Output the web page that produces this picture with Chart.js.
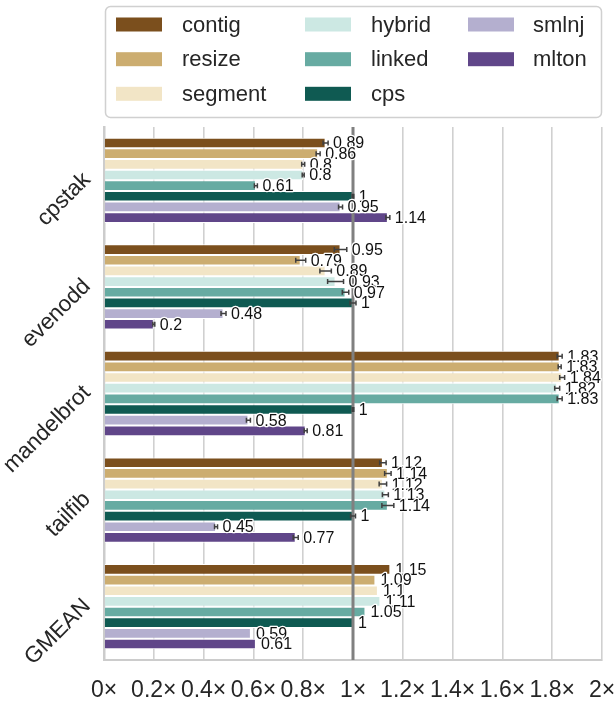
<!DOCTYPE html>
<html>
<head>
<meta charset="utf-8">
<script src="https://cdn.jsdelivr.net/npm/chart.js@4.4.1/dist/chart.umd.min.js"></script>
<style>
  html, body { margin: 0; padding: 0; background: #ffffff; }
  canvas { display: block; }
</style>
</head>
<body>
<canvas id="chart" width="614" height="702"></canvas>
<script>
// Benchmarks (y categories) and speedup relative to cps
const categories = ['cpstak', 'evenodd', 'mandelbrot', 'tailfib', 'GMEAN'];
const seriesNames = ['contig', 'resize', 'segment', 'hybrid', 'linked', 'cps', 'smlnj', 'mlton'];

const contig  = [0.89, 0.95, 1.83, 1.12, 1.15];
const resize  = [0.86, 0.79, 1.83, 1.14, 1.09];
const segment = [0.80, 0.89, 1.84, 1.12, 1.10];
const hybrid  = [0.80, 0.93, 1.82, 1.13, 1.11];
const linked  = [0.61, 0.97, 1.83, 1.14, 1.05];
const cps     = [1.00, 1.00, 1.00, 1.00, 1.00];
const smlnj   = [0.95, 0.48, 0.58, 0.45, 0.59];
const mlton   = [1.14, 0.20, 0.81, 0.77, 0.61];

// Half-width of the confidence interval for each bar (none for GMEAN)
const contigErr  = [0.010, 0.025, 0.010, 0.013, 0];
const resizeErr  = [0.008, 0.020, 0.006, 0.013, 0];
const segmentErr = [0.006, 0.023, 0.010, 0.015, 0];
const hybridErr  = [0.004, 0.032, 0.010, 0.012, 0];
const linkedErr  = [0.006, 0.013, 0.010, 0.024, 0];
const cpsErr     = [0.003, 0.012, 0.003, 0.010, 0];
const smlnjErr   = [0.008, 0.010, 0.008, 0.006, 0];
const mltonErr   = [0.008, 0.004, 0.006, 0.010, 0];

const tickLabels = ['0×', '0.2×', '0.4×', '0.6×', '0.8×', '1×', '1.2×', '1.4×', '1.6×', '1.8×', '2×'];

const seriesValues = [contig, resize, segment, hybrid, linked, cps, smlnj, mlton];
const seriesErrors = [contigErr, resizeErr, segmentErr, hybridErr, linkedErr, cpsErr, smlnjErr, mltonErr];
const seriesColors = ['#7b4f1d', '#ccad70', '#f2e5c6', '#cce8e3', '#67aba2', '#0f5a52', '#b4afcf', '#604689'];

const FONT = "'Liberation Sans', Arial, sans-serif";
const TEXT = '#262626';

const datasets = seriesNames.map((name, j) => ({
  label: name,
  data: seriesValues[j],
  err: seriesErrors[j],
  backgroundColor: seriesColors[j],
  borderColor: '#ffffff',
  borderWidth: { top: 1, bottom: 1, left: 0, right: 1 },
  borderSkipped: 'start',
  categoryPercentage: 0.8,
  barPercentage: 1.0
}));

const overlay = {
  id: 'overlay',
  beforeDraw(chart) {
    const ctx = chart.ctx;
    ctx.save();
    ctx.fillStyle = '#ffffff';
    ctx.fillRect(0, 0, chart.width, chart.height);
    ctx.restore();
  },
  afterDatasetsDraw(chart) {
    const ctx = chart.ctx;
    const xs = chart.scales.x;
    const area = chart.chartArea;

    // baseline at 1×
    const x1 = xs.getPixelForValue(1);
    ctx.save();
    ctx.strokeStyle = '#808080';
    ctx.lineWidth = 3;
    ctx.beginPath();
    ctx.moveTo(x1, area.top);
    ctx.lineTo(x1, area.bottom);
    ctx.stroke();

    // error bars
    ctx.strokeStyle = '#3f3f3f';
    ctx.lineWidth = 1.5;
    chart.data.datasets.forEach((ds, j) => {
      const meta = chart.getDatasetMeta(j);
      meta.data.forEach((bar, i) => {
        const e = ds.err[i];
        if (!e) return;
        const v = ds.data[i];
        const xl = xs.getPixelForValue(v - e);
        const xr = xs.getPixelForValue(v + e);
        const y = bar.y;
        const cap = 2.5;
        ctx.beginPath();
        ctx.moveTo(xl, y); ctx.lineTo(xr, y);
        ctx.moveTo(xl, y - cap); ctx.lineTo(xl, y + cap);
        ctx.moveTo(xr, y - cap); ctx.lineTo(xr, y + cap);
        ctx.stroke();
      });
    });

    // value labels
    ctx.font = '16px ' + FONT;
    ctx.textAlign = 'left';
    ctx.textBaseline = 'middle';
    ctx.lineJoin = 'round';
    categories.forEach((c, i) => {
      chart.data.datasets.forEach((ds, j) => {
        const bar = chart.getDatasetMeta(j).data[i];
        const v = ds.data[i];
        const e = ds.err[i] || 0;
        const tx = xs.getPixelForValue(v + e) + 5;
        const txt = String(v);
        ctx.strokeStyle = '#ffffff';
        ctx.lineWidth = 2.5;
        ctx.strokeText(txt, tx, bar.y + 1);
        ctx.fillStyle = '#111111';
        ctx.fillText(txt, tx, bar.y + 1);
      });
    });
    ctx.restore();
  },
  afterDraw(chart) {
    const ctx = chart.ctx;
    const ys = chart.scales.y;

    // rotated benchmark names
    ctx.save();
    ctx.font = '22.5px ' + FONT;
    ctx.fillStyle = TEXT;
    ctx.textAlign = 'right';
    ctx.textBaseline = 'middle';
    categories.forEach((c, i) => {
      const y = ys.getPixelForValue(i) - 4;
      ctx.save();
      ctx.translate(87, y);
      ctx.rotate(-Math.PI / 4);
      ctx.fillText(c, 0, 0);
      ctx.restore();
    });
    ctx.restore();

    // legend, three columns filled top to bottom
    ctx.save();
    const bx = 105.5, by = 6.5, bw = 496, bh = 111, r = 5;
    ctx.beginPath();
    ctx.moveTo(bx + r, by);
    ctx.arcTo(bx + bw, by, bx + bw, by + bh, r);
    ctx.arcTo(bx + bw, by + bh, bx, by + bh, r);
    ctx.arcTo(bx, by + bh, bx, by, r);
    ctx.arcTo(bx, by, bx + bw, by, r);
    ctx.closePath();
    ctx.fillStyle = '#ffffff';
    ctx.fill();
    ctx.strokeStyle = '#d0d0d0';
    ctx.lineWidth = 1.5;
    ctx.stroke();

    const colSwatch = [116, 305, 468];
    const colText = [182, 371, 533];
    const rowY = [24.5, 59.2, 93.8];
    ctx.font = '22px ' + FONT;
    ctx.textAlign = 'left';
    ctx.textBaseline = 'middle';
    chart.data.datasets.forEach((ds, j) => {
      const col = Math.floor(j / 3), row = j % 3;
      ctx.fillStyle = ds.backgroundColor;
      ctx.fillRect(colSwatch[col], rowY[row] - 7, 46, 14);
      ctx.fillStyle = TEXT;
      ctx.fillText(ds.label, colText[col], rowY[row] + 1);
    });
    ctx.restore();
  }
};

new Chart(document.getElementById('chart'), {
  type: 'bar',
  data: { labels: categories, datasets },
  options: {
    indexAxis: 'y',
    responsive: false,
    animation: false,
    devicePixelRatio: 1,
    layout: { padding: { top: 127, left: 0, right: 0, bottom: 1 } },
    plugins: {
      legend: { display: false },
      tooltip: { enabled: false }
    },
    scales: {
      x: {
        min: 0,
        max: 2,
        ticks: {
          stepSize: 0.2,
          color: TEXT,
          font: { family: FONT, size: 23 },
          padding: 17,
          maxRotation: 0,
          autoSkip: false,
          callback: (v, idx) => tickLabels[idx]
        },
        grid: { color: '#d0d0d0', lineWidth: 1.6, drawTicks: false },
        border: { display: true, color: '#cccccc', width: 2 },
        afterFit(scale) {
          scale.height = 41;
          scale.paddingLeft = 0;
          scale.paddingRight = 12;
        }
      },
      y: {
        ticks: { display: false },
        grid: { display: false, drawTicks: false },
        border: { display: true, color: '#cccccc', width: 2.5 },
        afterFit(scale) { scale.width = 104; }
      }
    }
  },
  plugins: [overlay]
});
</script>
</body>
</html>
